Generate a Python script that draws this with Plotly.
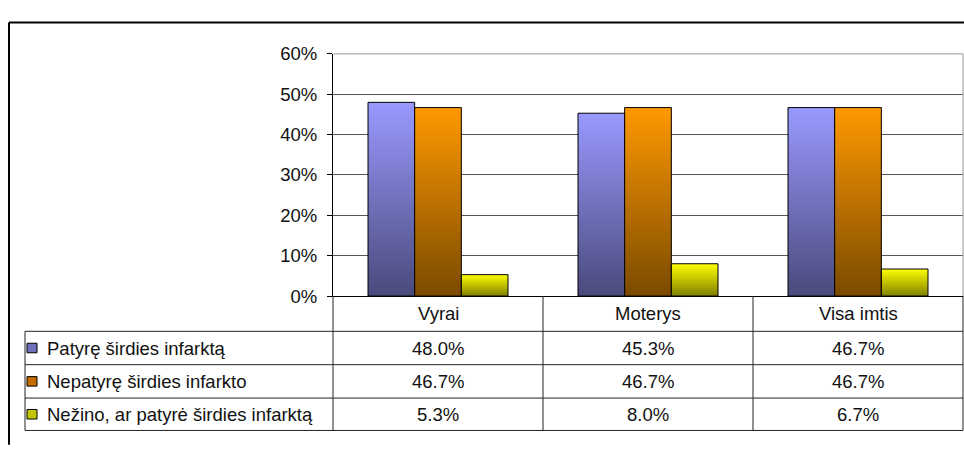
import plotly.graph_objects as go

# --- data ---
categories = ["Vyrai", "Moterys", "Visa imtis"]
series_names = [
    "Patyrę širdies infarktą",
    "Nepatyrę širdies infarkto",
    "Nežino, ar patyrė širdies infarktą",
]
patyre = [48.0, 45.3, 46.7]
nepatyre = [46.7, 46.7, 46.7]
nezino = [5.3, 8.0, 6.7]
y_ticks = [0, 10, 20, 30, 40, 50, 60]

series_values = [patyre, nepatyre, nezino]

# gradient colours per series: (bottom / dark, top / light)
gradients = [
    ("#4a4a7c", "#9999ff"),
    ("#7a4a00", "#ff9900"),
    ("#808000", "#ffff00"),
]
key_colors = ["#6f6fbb", "#c26c00", "#c4c400"]

W, H = 964, 450
FONT = "Liberation Sans, Arial, sans-serif"
FS = 18.5


def px(x):
    return x / W


def py(y):
    return 1 - y / H


# plot area in pixels
PX0, PX1 = 333, 963
PY_TOP, PY_BOT = 45, 299

fig = go.Figure()

# bars as filled polygons so each bar carries a vertical gradient
n_series = len(series_values)
group_frac = 2 / 3
bar_w = group_frac / n_series
for i, (name, vals) in enumerate(zip(series_names, series_values)):
    dark, light = gradients[i]
    for c, v in enumerate(vals):
        x0 = c - group_frac / 2 + i * bar_w
        x1 = x0 + bar_w
        fig.add_trace(
            go.Scatter(
                x=[x0, x1, x1, x0, x0],
                y=[0, 0, v, v, 0],
                mode="lines",
                fill="toself",
                fillgradient=dict(
                    type="vertical",
                    colorscale=[[0, dark], [1, light]],
                ),
                line=dict(color="#000000", width=1),
                name=name,
                showlegend=False,
                hoverinfo="skip",
            )
        )

shapes = []
line_dark = dict(color="#222222", width=1)

# outer chart frame
shapes.append(dict(type="line", xref="paper", yref="paper",
                   x0=px(9), x1=px(W + 5), y0=py(12), y1=py(12),
                   line=dict(color="#000000", width=2)))
shapes.append(dict(type="line", xref="paper", yref="paper",
                   x0=px(9), x1=px(9), y0=py(12), y1=py(H + 5),
                   line=dict(color="#000000", width=2)))

# plot area border (top and right)
shapes.append(dict(type="line", xref="paper", yref="paper",
                   x0=px(PX0), x1=px(PX1), y0=py(PY_TOP), y1=py(PY_TOP),
                   line=dict(color="#9a9a9a", width=1)))
shapes.append(dict(type="line", xref="paper", yref="paper",
                   x0=px(PX1), x1=px(PX1), y0=py(PY_TOP), y1=py(PY_BOT),
                   line=dict(color="#9a9a9a", width=1)))

# data table grid
TBL_LEFT = 25
row_edges = [336, 371, 406, 440]
col_edges = [PX0 + k * (PX1 - PX0) / len(categories) for k in range(len(categories) + 1)]
for ry in row_edges:
    shapes.append(dict(type="line", xref="paper", yref="paper",
                       x0=px(TBL_LEFT), x1=px(PX1), y0=py(ry), y1=py(ry),
                       line=line_dark))
for cx in col_edges:
    shapes.append(dict(type="line", xref="paper", yref="paper",
                       x0=px(cx), x1=px(cx), y0=py(PY_BOT), y1=py(row_edges[-1]),
                       line=line_dark))
shapes.append(dict(type="line", xref="paper", yref="paper",
                   x0=px(TBL_LEFT), x1=px(TBL_LEFT), y0=py(row_edges[0]), y1=py(row_edges[-1]),
                   line=line_dark))

# legend keys and values inside the table
annotations = []
for r, name in enumerate(series_names):
    top, bot = row_edges[r], row_edges[r + 1]
    cy = (top + bot) / 2
    shapes.append(dict(type="rect", xref="paper", yref="paper",
                       x0=px(27), x1=px(37), y0=py(cy - 5), y1=py(cy + 5),
                       fillcolor=key_colors[r],
                       line=dict(color="#000000", width=1)))
    annotations.append(dict(xref="paper", yref="paper", x=px(45), y=py(cy),
                            xanchor="left", yanchor="middle", showarrow=False,
                            text=name, font=dict(family=FONT, size=FS, color="#111111")))
    for c, v in enumerate(series_values[r]):
        annotations.append(dict(xref="x", yref="paper", x=c, y=py(cy),
                                xanchor="center", yanchor="middle", showarrow=False,
                                text=f"{v:.1f}%", font=dict(family=FONT, size=FS, color="#111111")))

# category headers
for c, cat in enumerate(categories):
    annotations.append(dict(xref="x", yref="paper", x=c, y=py((PY_BOT + row_edges[0]) / 2),
                            xanchor="center", yanchor="middle", showarrow=False,
                            text=cat, font=dict(family=FONT, size=FS, color="#111111")))

fig.update_layout(
    width=W,
    height=H,
    margin=dict(l=0, r=0, t=0, b=0),
    paper_bgcolor="#ffffff",
    plot_bgcolor="#ffffff",
    showlegend=False,
    hovermode=False,
    shapes=shapes,
    annotations=annotations,
    font=dict(family=FONT, size=FS, color="#111111"),
    xaxis=dict(
        domain=[px(PX0), px(PX1)],
        range=[-0.5, len(categories) - 0.5],
        showticklabels=False,
        showgrid=False,
        zeroline=False,
        showline=True,
        linecolor="#000000",
        linewidth=1,
        ticks="",
        fixedrange=True,
    ),
    yaxis=dict(
        domain=[py(PY_BOT), py(PY_TOP)],
        range=[0, 60],
        tickvals=y_ticks,
        ticktext=[f"{t}%" for t in y_ticks],
        ticks="outside",
        ticklen=5,
        tickcolor="#000000",
        ticklabelstandoff=6,
        showline=True,
        linecolor="#000000",
        linewidth=1,
        showgrid=True,
        gridcolor="#555555",
        gridwidth=1,
        zeroline=False,
        fixedrange=True,
        tickfont=dict(family=FONT, size=FS, color="#111111"),
    ),
)

fig.write_html("out.html", config={"displayModeBar": False})
